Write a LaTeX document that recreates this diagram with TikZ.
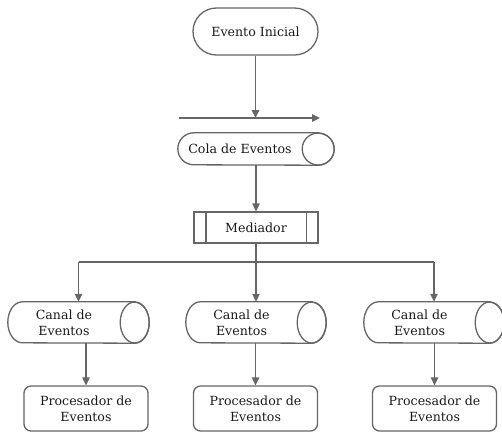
\documentclass[tikz,border=0pt]{standalone}
\usepackage{fontspec}
\setmainfont{DejaVu Serif}
\usetikzlibrary{arrows.meta,calc}
\definecolor{ln}{HTML}{666666}
\definecolor{tx}{HTML}{1A1A1A}
\tikzset{
  base/.style={draw=ln,line width=1.3pt,fill=white,text=tx,font=\fontsize{12.6}{16}\selectfont,align=center,inner sep=0pt},
  stadium/.style={base,rectangle,rounded corners=23.5pt,minimum width=125pt,minimum height=47pt},
  procbox/.style={base,rectangle,rounded corners=7pt,minimum width=124pt,minimum height=45pt},
  medbox/.style={base,rectangle,minimum width=124pt,minimum height=31pt},
  ghost/.style={rectangle,inner sep=0pt,draw=none},
  lbl/.style={text=tx,font=\fontsize{12.6}{16}\selectfont,align=center,inner sep=0pt},
  conn/.style={draw=ln,line width=1.3pt},
  arr/.style={conn,-{Triangle[length=8pt,width=7.5pt]}},
}
% \cylnode{name}{x}{y}{width}{height}{rx}{text}
\newcommand{\cylnode}[7]{%
  \node[ghost,minimum width=#4pt,minimum height=#5pt] (#1) at (#2,#3) {};
  \filldraw[draw=ln,fill=white,line width=1.3pt]
    ($(#1.north east)+(-#6pt,0)$) -- ($(#1.north west)+(#6pt,0)$)
    arc[start angle=90,end angle=270,x radius=#6pt,y radius=#5pt/2]
    -- ($(#1.south east)+(-#6pt,0)$)
    arc[start angle=-90,end angle=90,x radius=#6pt,y radius=#5pt/2] -- cycle;
  \draw[draw=ln,line width=1.3pt] ($(#1.east)+(-#6pt,0)$) ellipse[x radius=#6pt,y radius=#5pt/2];
  \node[lbl] (#1-t) at ($(#1.center)+(-#6pt,0)$) {#7};
}
\begin{document}
\begin{tikzpicture}[x=1pt,y=-1pt]
\useasboundingbox (0,0) rectangle (502,432);
\node[stadium] (ini) at (255.5,31.5) {Evento Inicial};
\coordinate (hl) at (179,118);
\coordinate (hr) at (320,118);
\draw[arr] (ini.south) -- (ini.south |- hl);
\draw[arr] (hl) -- (hr);
\cylnode{cola}{256}{149}{156}{32}{16}{Cola de Eventos}
\node[medbox] (med) at (256,227.5) {Mediador};
\draw[conn] ($(med.north west)+(12.5pt,0)$) -- ($(med.south west)+(12.5pt,0)$);
\draw[conn] ($(med.north east)+(-12.5pt,0)$) -- ($(med.south east)+(-12.5pt,0)$);
\draw[arr] (cola.south) -- (med.north);
\cylnode{c1}{78.5}{322.5}{141}{41}{14.5}{Canal de\\Eventos}
\cylnode{c2}{256}{322.5}{140}{41}{14.5}{Canal de\\Eventos}
\cylnode{c3}{434}{322.5}{140}{41}{14.5}{Canal de\\Eventos}
\coordinate (jn) at (256,262);
\draw[conn] (med.south) -- (jn);
\draw[conn] (jn -| c1.north) -- (jn -| c3.north);
\draw[arr] (jn -| c1.north) -- (c1.north);
\draw[arr] (jn) -- (c2.north);
\draw[arr] (jn -| c3.north) -- (c3.north);
\node[procbox] (p1) at (86,408.5) {Procesador de\\Eventos};
\node[procbox] (p2) at (255.5,408.5) {Procesador de\\Eventos};
\node[procbox] (p3) at (434.5,408.5) {Procesador de\\Eventos};
\draw[arr] (c1.south -| p1.north) -- (p1.north);
\draw[arr] (c2.south -| p2.north) -- (p2.north);
\draw[arr] (c3.south -| p3.north) -- (p3.north);
\end{tikzpicture}
\end{document}
